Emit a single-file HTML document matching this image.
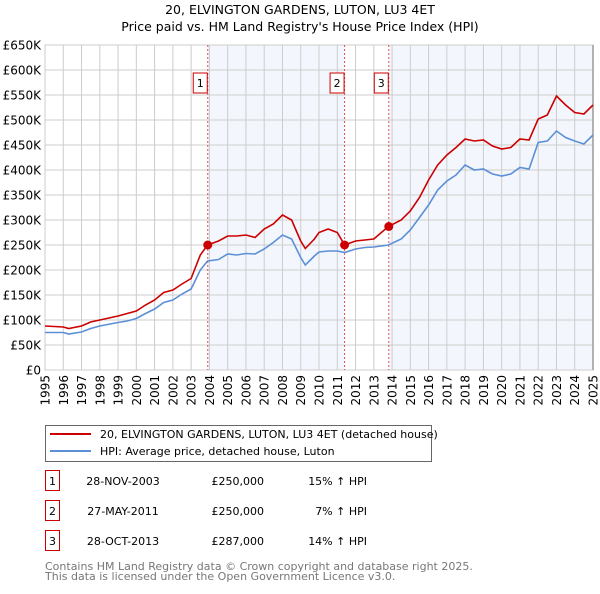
<!DOCTYPE html>
<html><head><meta charset="utf-8"><style>
body{margin:0;background:#fff;width:600px;height:590px;overflow:hidden;font-family:"DejaVu Sans","Liberation Sans",sans-serif}
svg text{font-family:"DejaVu Sans","Liberation Sans",sans-serif}
</style></head><body>
<svg id="c" width="600" height="590"></svg>
<script>
const years=[1995,1996,1996.3,1997,1997.5,1998,1999,1999.5,2000,2000.5,2001,2001.5,2002,2002.5,2003,2003.5,2003.9,2004.5,2005,2005.5,2006,2006.5,2007,2007.5,2008,2008.5,2009,2009.25,2009.75,2010,2010.5,2011,2011.4,2012,2012.5,2013,2013.8,2014.5,2015,2015.5,2016,2016.5,2017,2017.5,2018,2018.5,2019,2019.5,2020,2020.5,2021,2021.5,2022,2022.5,2023,2023.5,2024,2024.5,2025];
const priceSeries=[88,86,83,88,96,100,108,113,118,130,140,155,160,172,183,230,250,258,268,268,270,265,282,292,310,300,258,243,262,275,282,275,250,258,260,262,287,300,318,345,380,410,430,445,462,458,460,448,442,445,462,460,502,510,548,530,515,512,530];
const hpiSeries=[75,75,72,76,83,88,95,98,103,113,122,135,140,152,162,200,218,221,232,230,233,232,242,255,270,262,225,210,228,236,238,238,235,242,245,246,250,262,280,305,330,360,378,390,410,400,402,392,388,392,405,402,455,458,478,465,458,452,470];
const saleYears=[2003.91,2011.4,2013.82];
const salePrices=[250,250,287];
const saleLabels=["1","2","3"];
const yTicks=[0,50,100,150,200,250,300,350,400,450,500,550,600,650];
const yTickLabels=["£0","£50K","£100K","£150K","£200K","£250K","£300K","£350K","£400K","£450K","£500K","£550K","£600K","£650K"];
const xTicks=[1995,1996,1997,1998,1999,2000,2001,2002,2003,2004,2005,2006,2007,2008,2009,2010,2011,2012,2013,2014,2015,2016,2017,2018,2019,2020,2021,2022,2023,2024,2025];

const L=45,R=593,T=45,B=370;
const X=y=>L+(y-1995)/30*(R-L);
const Y=v=>B-v/650*(B-T);
const NS="http://www.w3.org/2000/svg";
const svg=document.getElementById('c');
function mk(tag,attrs,txt){const e=document.createElementNS(NS,tag);for(const k in attrs)e.setAttribute(k,attrs[k]);if(txt!==undefined)e.textContent=txt;svg.appendChild(e);return e;}

let t=mk('text',{x:300,y:14,'text-anchor':'middle','font-size':12.5,fill:'#000'},'20, ELVINGTON GARDENS, LUTON, LU3 4ET');


t=mk('text',{x:300,y:31,'text-anchor':'middle','font-size':12.5,fill:'#000'},"Price paid vs. HM Land Registry's House Price Index (HPI)");



let sh=mk('rect',{x:X(saleYears[0]),y:T,width:X(saleYears[1])-X(saleYears[0]),height:B-T,fill:'#eef3fc',opacity:0.7});


sh=mk('rect',{x:X(saleYears[2]),y:T,width:R-X(saleYears[2]),height:B-T,fill:'#eef3fc',opacity:0.7});



yTicks.forEach((v,i)=>{
  const g=mk('line',{x1:L,x2:R,y1:Y(v),y2:Y(v),stroke:'#cccccc','stroke-width':1});
  
  
  const l=mk('text',{x:L-4,y:Y(v)+4.5,'text-anchor':'end','font-size':12,fill:'#000'},yTickLabels[i]);
  
  
});
xTicks.forEach(y=>{
  const g=mk('line',{x1:X(y),x2:X(y),y1:T,y2:B,stroke:'#cccccc','stroke-width':1});
  
  
  const l=mk('text',{x:0,y:0,'text-anchor':'end','font-size':12,fill:'#000',transform:`translate(${X(y)+4.5},${B+5}) rotate(-90)`},String(y));
  
  
});
let ax=mk('rect',{x:L,y:T,width:R-L,height:B-T,fill:'none',stroke:'#cccccc'});


ax=mk('line',{x1:R,x2:R,y1:T,y2:B,stroke:'#999','stroke-width':1.5});



saleYears.forEach((y,i)=>{
  const v=mk('line',{x1:X(y),x2:X(y),y1:T,y2:B,stroke:'#e05050','stroke-width':1,'stroke-dasharray':'2,2'});
  
  
  const bx=mk('rect',{x:X(y)-14.5,y:73,width:14,height:20,fill:'#fff',stroke:'#cc0000','stroke-width':1});
  
  
  const tx=mk('text',{x:X(y)-7.5,y:87,'text-anchor':'middle','font-size':11,fill:'#000'},saleLabels[i]);
  
  
});

const path=arr=>arr.map((v,i)=>(i?'L':'M')+X(years[i]).toFixed(1)+','+Y(v).toFixed(1)).join('');
let p=mk('path',{d:path(hpiSeries),fill:'none',stroke:'#5b8fd6','stroke-width':1.6});


p=mk('path',{d:path(priceSeries),fill:'none',stroke:'#cc0000','stroke-width':1.6});


saleYears.forEach((y,i)=>{
  const d=mk('circle',{cx:X(y),cy:Y(salePrices[i]),r:4.5,fill:'#cc0000'});
  
  
});

let lg=mk('rect',{x:45.5,y:425.5,width:386,height:36,fill:'#fff',stroke:'#666'});


lg=mk('line',{x1:50,x2:91,y1:434,y2:434,stroke:'#cc0000','stroke-width':2});


lg=mk('text',{x:100,y:438,'font-size':11,fill:'#000'},'20, ELVINGTON GARDENS, LUTON, LU3 4ET (detached house)');


lg=mk('line',{x1:50,x2:91,y1:451,y2:451,stroke:'#5b8fd6','stroke-width':2});


lg=mk('text',{x:100,y:455,'font-size':11,fill:'#000'},'HPI: Average price, detached house, Luton');



const rowDates=["28-NOV-2003","27-MAY-2011","28-OCT-2013"];
const rowPrices=["£250,000","£250,000","£287,000"];
const rowPct=["15% ↑ HPI","7% ↑ HPI","14% ↑ HPI"];
rowDates.forEach((d,i)=>{
  const cy=483+30*i;
  let e=mk('rect',{x:45.5,y:cy-12.5,width:14,height:20,fill:'#fff',stroke:'#cc0000'});
  
  
  e=mk('text',{x:52.5,y:cy+2,'text-anchor':'middle','font-size':11,fill:'#000'},saleLabels[i]);
  
  
  e=mk('text',{x:123,y:cy+2,'text-anchor':'middle','font-size':11,fill:'#000'},d);
  
  
  e=mk('text',{x:264,y:cy+2,'text-anchor':'end','font-size':11,fill:'#000'},rowPrices[i]);
  
  
  e=mk('text',{x:367,y:cy+2,'text-anchor':'end','font-size':11,fill:'#000'},rowPct[i]);
  
  
});
let f=mk('text',{x:45,y:570,'font-size':11,fill:'#777'},'Contains HM Land Registry data © Crown copyright and database right 2025.');


f=mk('text',{x:45,y:580,'font-size':11,fill:'#777'},'This data is licensed under the Open Government Licence v3.0.');


</script>
</body></html>
